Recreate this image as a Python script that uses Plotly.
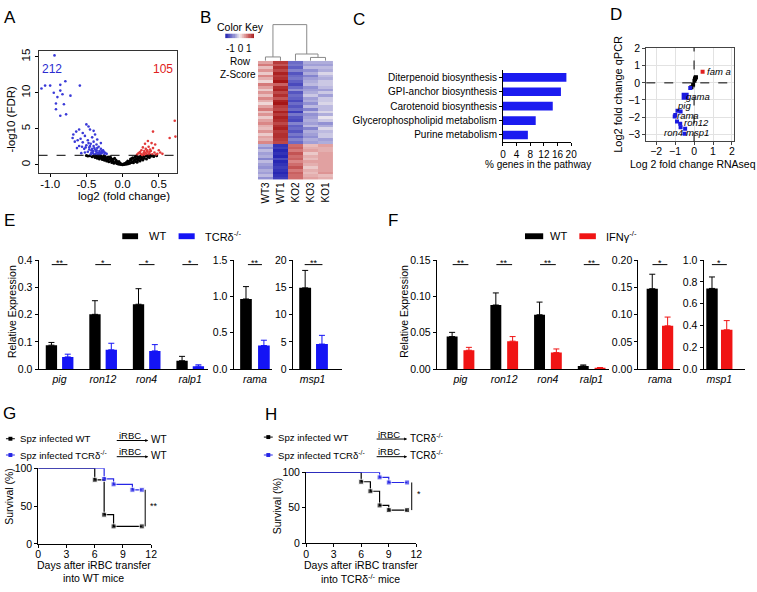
import plotly.graph_objects as go

W, H = 757, 592
FONT = "Liberation Sans, Arial, Helvetica, sans-serif"

# ======================= DATA =======================
# ---- A: volcano plot  (log2 fold change, -log10 FDR) ----
volc_down = [(-0.94, 15.2), (-1.07, 11.0), (-1.0, 11.0), (-0.79, 11.6), (-0.59, 11.0), (-0.86, 11.1),
             (-0.86, 10.3), (-0.83, 9.8), (-0.72, 9.6), (-0.92, 8.5), (-0.81, 8.4), (-0.92, 7.7),
             (-0.86, 6.8), (-0.78, 7.0), (-0.9, 9.4), (-1.12, 10.6), (-0.95, 10.0), (-0.68, 4.2),
             (-0.69, 3.7), (-0.6, 4.9), (-0.64, 4.6), (-0.55, 4.4), (-0.5, 5.6), (-0.47, 5.3),
             (-0.45, 4.9), (-0.4, 4.7), (-0.52, 4.0), (-0.58, 3.6), (-0.62, 3.4), (-0.66, 3.2),
             (-0.55, 3.1), (-0.48, 3.4), (-0.42, 3.8), (-0.38, 4.2), (-0.35, 3.5), (-0.44, 2.9),
             (-0.5, 2.7), (-0.56, 2.5), (-0.6, 2.6), (-0.63, 2.3), (-0.53, 2.2), (-0.46, 2.4),
             (-0.4, 2.6), (-0.36, 2.8), (-0.33, 2.5), (-0.3, 2.2), (-0.27, 2.0), (-0.32, 1.9),
             (-0.38, 2.1), (-0.43, 2.0), (-0.48, 1.8), (-0.52, 1.7), (-0.57, 1.6), (-0.41, 1.6),
             (-0.35, 1.7), (-0.29, 1.6), (-0.25, 1.5), (-0.31, 1.45), (-0.37, 1.5), (-0.44, 1.45),
             (-0.22, 1.5), (-0.26, 1.8), (-0.3, 3.0), (-0.4, 3.2), (-0.47, 3.0), (-0.34, 1.4),
             (-0.39, 1.4), (-0.36, 2.0), (-0.28, 1.75), (-0.33, 1.6), (-0.41, 1.9), (-0.46, 2.1),
             (-0.37, 1.85), (-0.31, 1.7), (-0.43, 1.7), (-0.39, 2.3), (-0.35, 2.3), (-0.29, 1.9),
             (-0.24, 1.65), (-0.45, 2.6), (-0.51, 2.4), (-0.42, 2.2)]
volc_up = [(0.72, 6.1), (0.73, 3.9), (0.65, 3.7), (0.42, 4.6), (0.35, 3.3), (0.4, 3.0), (0.45, 2.8),
           (0.31, 2.9), (0.36, 2.5), (0.28, 2.4), (0.32, 2.2), (0.38, 2.1), (0.42, 2.3), (0.26, 2.0),
           (0.3, 1.9), (0.34, 1.8), (0.39, 1.9), (0.44, 1.7), (0.48, 1.5), (0.22, 1.6), (0.25, 1.5),
           (0.29, 1.6), (0.33, 1.5), (0.37, 1.55), (0.41, 1.45), (0.46, 1.4), (0.2, 1.4), (0.24, 1.75),
           (0.5, 2.0), (0.55, 1.5), (0.52, 1.7), (0.3, 1.4), (0.36, 1.4), (0.27, 1.35), (0.34, 2.0),
           (0.37, 1.75), (0.31, 1.65)]
volc_ns = [(-0.45, 1.25), (-0.42, 1.1), (-0.4, 1.2), (-0.38, 1.0), (-0.36, 1.15), (-0.35, 0.9),
           (-0.33, 1.05), (-0.32, 0.8), (-0.3, 1.2), (-0.3, 0.95), (-0.28, 0.7), (-0.27, 1.0),
           (-0.26, 0.85), (-0.25, 0.6), (-0.24, 1.15), (-0.23, 0.75), (-0.22, 0.5), (-0.21, 0.95),
           (-0.2, 0.65), (-0.19, 0.4), (-0.18, 0.8), (-0.17, 1.1), (-0.16, 0.55), (-0.15, 0.3),
           (-0.14, 0.7), (-0.13, 0.45), (-0.12, 0.2), (-0.11, 0.9), (-0.1, 0.35), (-0.09, 0.6),
           (-0.08, 0.15), (-0.07, 0.3), (-0.06, 0.08), (-0.05, 0.45), (-0.04, 0.05), (-0.03, 0.2),
           (-0.02, 0.02), (0.0, 0.0), (0.01, 0.1), (0.02, 0.02), (0.03, 0.15), (0.04, 0.05),
           (0.05, 0.3), (0.06, 0.08), (0.07, 0.2), (0.08, 0.12), (0.09, 0.4), (0.1, 0.2),
           (0.11, 0.6), (0.12, 0.3), (0.13, 0.85), (0.14, 0.4), (0.15, 0.25), (0.16, 0.6),
           (0.17, 1.0), (0.18, 0.45), (0.19, 0.75), (0.2, 0.35), (0.21, 1.1), (0.22, 0.6),
           (0.23, 0.9), (0.24, 0.5), (0.25, 1.2), (0.26, 0.75), (0.27, 1.0), (0.28, 0.65),
           (0.3, 0.9), (0.31, 1.2), (0.33, 0.8), (0.35, 1.1), (0.37, 1.0), (0.4, 1.2),
           (0.43, 1.15), (0.47, 1.25), (-0.5, 1.28), (-0.48, 1.2), (-0.34, 1.25), (-0.29, 1.1),
           (-0.24, 0.95), (-0.16, 0.9), (0.14, 0.95), (0.2, 0.8), (0.29, 1.25), (0.34, 1.25),
           (-0.2, 1.05), (-0.13, 0.75), (-0.08, 0.45), (0.07, 0.5), (0.11, 0.8), (0.18, 1.15),
           (0.24, 1.05), (-0.26, 1.25), (-0.39, 1.28), (0.38, 1.28)]
volc_n_down, volc_n_up = 212, 105
fdr_cut = 1.3

# ---- B: heatmap of row z-scores ----
heat_cols = ["WT3", "WT1", "KO2", "KO3", "KO1"]
heat_z = [
    [0.6, 1.4, -1.0, -0.5, -0.5], [0.9, 1.2, -0.9, -0.6, -0.6], [0.4, 1.5, -1.1, -0.4, -0.4],
    [0.7, 1.3, -0.8, -0.7, -0.5], [0.3, 1.6, -1.2, -0.5, -0.2], [0.8, 1.4, -1.0, -0.8, -0.4],
    [0.5, 1.5, -0.9, -0.6, -0.5], [0.2, 1.7, -1.1, -0.5, -0.3], [0.9, 1.1, -1.3, -0.4, -0.3],
    [0.6, 1.5, -1.0, -0.7, -0.4], [0.3, 1.6, -0.7, -0.6, -0.6], [0.7, 1.3, -1.2, -0.5, -0.3],
    [0.4, 1.5, -1.0, -0.3, -0.6], [0.8, 1.2, -1.1, -0.6, -0.3], [0.5, 1.6, -1.3, -0.5, -0.3],
    [0.2, 1.7, -1.0, -0.7, -0.2], [0.6, 1.4, -1.2, -0.4, -0.4], [0.9, 1.3, -1.0, -0.8, -0.4],
    [0.4, 1.6, -1.4, -0.4, -0.2], [0.7, 1.4, -0.9, -0.7, -0.5], [0.3, 1.6, -1.2, -0.6, -0.1],
    [0.6, 1.5, -1.3, -0.5, -0.3], [0.8, 1.3, -0.8, -0.6, -0.7], [0.5, 1.5, -1.1, -0.4, -0.5],
    [0.4, 1.6, -1.0, -0.8, -0.2], [0.7, 1.4, -1.2, -0.5, -0.4], [0.3, 1.5, -0.9, -0.6, -0.3],
    [0.6, 1.5, -1.1, -0.7, -0.3], [0.5, 1.4, -0.8, -0.5, -0.6], [0.8, 1.3, -1.0, -0.6, -0.5],
    [-0.5, -1.5, 1.0, 0.4, 0.6], [-0.7, -1.4, 1.1, 0.5, 0.5], [-0.4, -1.6, 0.9, 0.6, 0.5],
    [-0.6, -1.5, 1.2, 0.3, 0.6], [-0.5, -1.6, 1.0, 0.5, 0.6], [-0.8, -1.3, 1.1, 0.4, 0.6],
    [-0.4, -1.6, 0.8, 0.6, 0.6], [-0.6, -1.5, 1.0, 0.5, 0.6], [-0.7, -1.4, 1.2, 0.3, 0.6],
    [-0.5, -1.5, 0.9, 0.5, 0.6], [-0.6, -1.6, 1.1, 0.4, 0.7], [-0.4, -1.5, 1.0, 0.5, 0.4],
    [-0.7, -1.4, 1.0, 0.6, 0.5],
]
heat_key_vals = [-1.7, -1.45, -1.2, -0.95, -0.7, -0.45, -0.2, 0.0, 0.2, 0.45, 0.7, 0.95, 1.2, 1.45, 1.7]
heat_key_labels = ["-1", "0", "1"]
# dendrogram merges: (left x, left height, right x, right height, merge height)
dendro_merges = [(0, 0, 1, 0, 4.0), (3, 0, 4, 0, 3.5), (2, 0, 3.5, 3.5, 7.0), (0.5, 4.0, 2.75, 7.0, 37.0)]

# ---- C: pathway enrichment ----
path_names = ["Diterpenoid biosynthesis", "GPI-anchor biosynthesis", "Carotenoid biosynthesis",
              "Glycerophospholipid metabolism", "Purine metabolism"]
path_pct = [18.6, 17.0, 14.6, 9.6, 7.3]

# ---- D: qPCR vs RNAseq ----
d_black_x = [0.1, 0.05, 0.02, -0.05, -0.14, 0.07]
d_black_y = [0.33, 0.22, 0.13, -0.1, -0.25, 0.3]
d_red_x, d_red_y = [0.45], [0.65]
d_blue_x = [-0.2, -0.87, -0.71, -0.99, -1.02, -0.9, -0.73, -0.71, -0.47, -0.5]
d_blue_y = [-0.3, -1.63, -1.67, -1.88, -1.97, -2.26, -2.39, -2.59, -2.68, -2.97]
d_gama_x, d_gama_y = [-0.47], [-0.79]
d_labels = ["fam a", "gama", "pig", "rama", "ron12", "ron4", "msp1"]

# ---- E: WT vs TCRd-/- ----
e_genes = ["pig", "ron12", "ron4", "ralp1"]
e_wt = [0.088, 0.201, 0.238, 0.031]
e_wt_err = [0.010, 0.050, 0.057, 0.016]
e_ko = [0.045, 0.071, 0.067, 0.011]
e_ko_err = [0.010, 0.024, 0.023, 0.005]
e_sig = ["**", "*", "*", "*"]
e_rama = [0.965, 0.17, 0.325, 0.073]     # wt, wt err, ko, ko err
e_rama_sig = "**"
e_msp1 = [14.9, 3.2, 4.6, 1.6]
e_msp1_sig = "**"

# ---- F: WT vs IFNg-/- ----
f_genes = ["pig", "ron12", "ron4", "ralp1"]
f_wt = [0.0448, 0.0882, 0.0748, 0.0045]
f_wt_err = [0.0058, 0.0166, 0.0174, 0.0013]
f_ko = [0.026, 0.0385, 0.0228, 0.0018]
f_ko_err = [0.004, 0.0063, 0.005, 0.0004]
f_sig = ["**", "**", "**", "**"]
f_rama = [0.1475, 0.0265, 0.0794, 0.0161]
f_rama_sig = "*"
f_msp1 = [0.740, 0.105, 0.361, 0.084]
f_msp1_sig = "*"

# ---- G / H: survival ----
g_wt_t = [0, 6, 7, 8, 11]
g_wt_s = [100, 84.6, 38.5, 23.1, 23.1]
g_ko_t = [0, 7, 8, 10, 11]
g_ko_s = [100, 85.7, 78.6, 71.4, 71.4]
g_sig = "**"
h_wt_t = [0, 6, 7, 8, 9, 11]
h_wt_s = [100, 86.7, 73.3, 53.3, 46.7, 46.7]
h_ko_t = [0, 8, 9, 11]
h_ko_s = [100, 92.9, 85.7, 85.7]
h_sig = "*"

# ======================= HELPERS =======================
fig = go.Figure()
annotations, shapes = [], []


def PX(x):
    return x / W


def PY(y):
    return 1 - y / H


def dx(a, b):
    return [a / W, b / W]


def dy(top, bottom):
    return [1 - bottom / H, 1 - top / H]


def txt(x, y, s, size=10, color="black", xanchor="center", yanchor="middle", angle=0):
    annotations.append(dict(x=PX(x), y=PY(y), xref="paper", yref="paper", text=s, showarrow=False,
                            font=dict(family=FONT, size=size, color=color), xanchor=xanchor,
                            yanchor=yanchor, textangle=angle))


def axis(domain, rng=None, size=10, **kw):
    d = dict(domain=domain, showgrid=False, zeroline=False, showline=True, linecolor="black",
             linewidth=1, ticks="outside", ticklen=3, tickwidth=1, tickcolor="black",
             tickfont=dict(family=FONT, size=size, color="black"), fixedrange=True)
    if rng is not None:
        d["range"] = rng
    d.update(kw)
    return d


layout_axes = {}

# ======================= A =======================
fig.add_trace(go.Scatter(x=[p[0] for p in volc_ns], y=[p[1] for p in volc_ns], mode="markers",
                         marker=dict(color="black", size=3), xaxis="x", yaxis="y"))
fig.add_trace(go.Scatter(x=[p[0] for p in volc_down], y=[p[1] for p in volc_down], mode="markers",
                         marker=dict(color="#3a3ad8", size=2.6), xaxis="x", yaxis="y"))
fig.add_trace(go.Scatter(x=[p[0] for p in volc_up], y=[p[1] for p in volc_up], mode="markers",
                         marker=dict(color="#e23a3a", size=2.6), xaxis="x", yaxis="y"))
layout_axes["xaxis"] = axis(dx(36, 176), [-1.16, 0.75], size=11.5, anchor="y", mirror=True,
                            tickvals=[-1, -0.5, 0, 0.5], ticktext=["-1.0", "-0.5", "0.0", "0.5"],
                            linecolor="#333", ticklabelstandoff=-2)
layout_axes["yaxis"] = axis(dy(46, 170), [-1.1, 15.8], size=11.5, anchor="x", mirror=True,
                            tickvals=[0, 5, 10, 15], tickangle=-90, linecolor="#333")
shapes.append(dict(type="line", xref="x domain", yref="y", x0=0, x1=1, y0=fdr_cut, y1=fdr_cut,
                   line=dict(color="black", width=1, dash="dash")))
txt(50, 64, str(volc_n_down), size=12, color="#2b2bd0")
txt(162, 64, str(volc_n_up), size=12, color="#e02020")
txt(8, 115, "-log10 (FDR)", size=11.5, angle=-90)
txt(122, 194, "log2 (fold change)", size=11.5)

# ======================= B =======================
HEAT_CS = [[0, "#1c1cb0"], [0.25, "#7d7dcc"], [0.5, "#f6f1f1"], [0.75, "#d88080"], [1, "#a51616"]]
fig.add_trace(go.Heatmap(z=heat_z, x=list(range(len(heat_cols))), xaxis="x2", yaxis="y2",
                         zmin=-1.7, zmax=1.7, colorscale=HEAT_CS, showscale=False))
layout_axes["xaxis2"] = axis(dx(258, 334), [-0.5, 4.5], anchor="y2", showline=False, ticks="",
                             tickvals=list(range(5)), ticktext=heat_cols, tickangle=-90)
layout_axes["yaxis2"] = axis(dy(56, 177), [len(heat_z) - 0.5, -0.5], anchor="x2", showline=False,
                             ticks="", showticklabels=False)
dxs, dys = [], []
for (xl, hl, xr, hr, h) in dendro_merges:
    dxs += [xl, xl, xr, xr, None]
    dys += [hl, h, h, hr, None]
fig.add_trace(go.Scatter(x=dxs, y=dys, mode="lines", line=dict(color="#8a8a8a", width=1),
                         xaxis="x3", yaxis="y3"))
layout_axes["xaxis3"] = axis(dx(258, 334), [-0.5, 4.5], anchor="y3", visible=False)
layout_axes["yaxis3"] = axis(dy(15, 56), [0, 41], anchor="x3", visible=False)
# colour key
fig.add_trace(go.Heatmap(z=[heat_key_vals, heat_key_vals], x=heat_key_vals, y=[0, 1],
                         xaxis="x14", yaxis="y14",
                         zmin=-1.7, zmax=1.7, colorscale=HEAT_CS, showscale=False))
layout_axes["xaxis14"] = axis(dx(225, 254), [-1.7, 1.7], anchor="y14", visible=False)
layout_axes["yaxis14"] = axis(dy(28, 33), [-0.5, 1.5], anchor="x14", visible=False)
txt(240, 21, "Color Key", size=10.5)
txt(238.5, 43, " ".join(heat_key_labels), size=10)
txt(240.5, 57, "Row", size=10)
txt(237.5, 70, "Z-Score", size=10)

# ======================= C =======================
fig.add_trace(go.Bar(x=path_pct, y=path_names, orientation="h", width=0.6,
                     marker=dict(color="#1b1bf0", line=dict(width=0)), xaxis="x4", yaxis="y4"))
layout_axes["xaxis4"] = axis(dx(506, 575), [0, 20], anchor="y4", size=10,
                             tickvals=[0, 4, 8, 12, 16, 20])
layout_axes["yaxis4"] = axis(dy(65.5, 139), anchor="x4", size=10, type="category",
                             categoryarray=path_names, autorange="reversed")
txt(541, 162, "% genes in the pathway", size=10)

# ======================= D =======================
fig.add_trace(go.Scatter(x=d_black_x, y=d_black_y, mode="markers",
                         marker=dict(color="black", size=4, symbol="square"), xaxis="x5", yaxis="y5"))
fig.add_trace(go.Scatter(x=d_blue_x, y=d_blue_y, mode="markers",
                         marker=dict(color="#1a1ae0", size=4, symbol="square"), xaxis="x5", yaxis="y5"))
fig.add_trace(go.Scatter(x=d_gama_x, y=d_gama_y, mode="markers",
                         marker=dict(color="#1a1ae0", size=7, symbol="square"), xaxis="x5", yaxis="y5"))
fig.add_trace(go.Scatter(x=d_red_x, y=d_red_y, mode="markers",
                         marker=dict(color="#e02020", size=4, symbol="square"), xaxis="x5", yaxis="y5"))
layout_axes["xaxis5"] = axis(dx(651, 739.3), [-2.52, 2.08], anchor="y5", mirror=True, size=10.5,
                             showgrid=True, gridcolor="#e2e2e2", tickvals=[-2, -1, 0, 1, 2],
                             linecolor="#444", tickcolor="#444", ticklabelstandoff=-3)
layout_axes["yaxis5"] = axis(dy(42.7, 138.3), [-3.43, 2.05], anchor="x5", mirror=True, size=10.5,
                             showgrid=True, gridcolor="#e2e2e2", tickvals=[-3, -2, -1, 0, 1, 2],
                             linecolor="#444", tickcolor="#444")
shapes.append(dict(type="line", xref="x5", yref="y5 domain", x0=0, x1=0, y0=0, y1=1,
                   line=dict(color="black", width=1, dash="dash")))
shapes.append(dict(type="line", xref="x5 domain", yref="y5", x0=0, x1=1, y0=0, y1=0,
                   line=dict(color="black", width=1, dash="dash")))
# gene label anchors (data coords of the label centre)
d_label_pos = {"fam a": (1.3, 0.65), "gama": (0.22, -0.78), "pig": (-0.52, -1.3),
               "rama": (-0.32, -1.93), "ron12": (0.12, -2.34), "ron4": (-1.1, -2.9),
               "msp1": (0.16, -2.9)}
for lab in d_labels:
    lx, ly = d_label_pos[lab]
    annotations.append(dict(x=lx, y=ly, xref="x5", yref="y5", text="<i>%s</i>" % lab, showarrow=False,
                            font=dict(family=FONT, size=9.5, color="black")))
txt(623, 90, "Log2 fold change qPCR", size=11, angle=-90)
txt(632.5, 161.5, "Log 2 fold change RNAseq", size=10.5, xanchor="left")


# ======================= E / F bar panels =======================
def bar_panel(n, dom_x, dom_y, rng_x, rng_y, dtick, fmt, cats, wt, wt_err, ko, ko_err, sigs,
              color, width, off_wt, off_ko):
    xa, ya = "x%d" % n, "y%d" % n
    xs = list(range(len(cats)))
    for vals, errs, col, off in ((wt, wt_err, "black", off_wt), (ko, ko_err, color, off_ko)):
        fig.add_trace(go.Bar(x=xs, y=vals, width=width, offset=off,
                             marker=dict(color=col, line=dict(width=0)),
                             error_y=dict(type="data", symmetric=False, array=errs,
                                          arrayminus=[0] * len(vals), color=col, thickness=1,
                                          width=3),
                             xaxis=xa, yaxis=ya))
    layout_axes["xaxis%d" % n] = axis(dom_x, rng_x, anchor=ya, ticks="", size=10.5,
                                      tickvals=xs, ticktext=["<i>%s</i>" % c for c in cats])
    layout_axes["yaxis%d" % n] = axis(dom_y, rng_y, anchor=xa, size=10.5, dtick=dtick,
                                      tickformat=fmt, tick0=0)
    ytop = rng_y[1] * 0.958
    ctr = (off_wt + off_ko + width) / 2
    for i, s in enumerate(sigs):
        shapes.append(dict(type="line", xref=xa, yref=ya, x0=i + ctr - 0.18, x1=i + ctr + 0.18,
                           y0=ytop, y1=ytop, line=dict(color="black", width=1)))
        annotations.append(dict(x=i + ctr, y=ytop, xref=xa, yref=ya, text=s, showarrow=False,
                                yanchor="middle", yshift=2,
                                font=dict(family=FONT, size=9, color="black")))


BLUE = "#1414f5"
RED = "#f01414"
bar_panel(6, dx(36, 207), dy(259.3, 370.7), [-0.48, 3.4], [0, 0.4], 0.1, ".1f", e_genes,
          e_wt, e_wt_err, e_ko, e_ko_err, e_sig, BLUE, 0.26, -0.315, 0.06)
bar_panel(7, dx(233.3, 272.7), dy(259.3, 370.7), [-0.55, 0.45], [0, 1.5], 0.5, ".1f", ["rama"],
          [e_rama[0]], [e_rama[1]], [e_rama[2]], [e_rama[3]], [e_rama_sig], BLUE, 0.3, -0.38, 0.08)
bar_panel(8, dx(293.3, 343.3), dy(259.3, 370.7), [-0.4, 0.6], [0, 20], 5, "d", ["msp1"],
          [e_msp1[0]], [e_msp1[1]], [e_msp1[2]], [e_msp1[3]], [e_msp1_sig], BLUE, 0.24, -0.27, 0.07)
bar_panel(9, dx(439, 613.3), dy(259.3, 370.7), [-0.54, 3.4], [0, 0.15], 0.05, ".2f", f_genes,
          f_wt, f_wt_err, f_ko, f_ko_err, f_sig, RED, 0.25, -0.314, 0.07)
bar_panel(10, dx(643, 685), dy(259.3, 370.7), [-0.52, 0.48], [0, 0.2], 0.05, ".2f", ["rama"],
          [f_rama[0]], [f_rama[1]], [f_rama[2]], [f_rama[3]], [f_rama_sig], RED, 0.27, -0.32, 0.05)
bar_panel(11, dx(709, 751), dy(259.3, 370.7), [-0.38, 0.62], [0, 1.0], 0.2, ".1f", ["msp1"],
          [f_msp1[0]], [f_msp1[1]], [f_msp1[2]], [f_msp1[3]], [f_msp1_sig], RED, 0.276, -0.315, 0.04)

txt(8.5, 312, "Relative Expression", size=10.5, angle=-90)
txt(405, 312, "Relative Expression", size=10.5, angle=-90)

# legends E / F
shapes.append(dict(type="rect", xref="paper", yref="paper", x0=PX(120.7), x1=PX(136.7), y0=PY(238),
                   y1=PY(232), fillcolor="black", line=dict(width=0)))
txt(145.7, 235, "WT", size=11, xanchor="left")
shapes.append(dict(type="rect", xref="paper", yref="paper", x0=PX(177.7), x1=PX(194), y0=PY(238),
                   y1=PY(232), fillcolor=BLUE, line=dict(width=0)))
txt(202.7, 235, "TCRδ<sup>-/-</sup>", size=11, xanchor="left")
shapes.append(dict(type="rect", xref="paper", yref="paper", x0=PX(528.3), x1=PX(546.7), y0=PY(238),
                   y1=PY(232), fillcolor="black", line=dict(width=0)))
txt(551.7, 235, "WT", size=11, xanchor="left")
shapes.append(dict(type="rect", xref="paper", yref="paper", x0=PX(583.3), x1=PX(600), y0=PY(238),
                   y1=PY(232), fillcolor=RED, line=dict(width=0)))
txt(608.3, 235, "IFNγ<sup>-/-</sup>", size=11, xanchor="left")


# ======================= G / H survival =======================
def km_panel(n, dom_x, dom_y, curves, sig, sig_x, sig_lo, sig_hi):
    xa, ya = "x%d" % n, "y%d" % n
    for t, s, col in curves:
        fig.add_trace(go.Scatter(x=t, y=s, mode="lines+markers", line=dict(shape="hv", color=col, width=1.2),
                                 marker=dict(symbol="square", size=[0] + [5] * (len(t) - 1), color=col),
                                 cliponaxis=False, xaxis=xa, yaxis=ya))
    layout_axes["xaxis%d" % n] = axis(dom_x, [0, 12], anchor=ya, size=10.5, tickvals=[0, 3, 6, 9, 12],
                                      ticklabelstandoff=-2)
    layout_axes["yaxis%d" % n] = axis(dom_y, [0, 100], anchor=xa, size=10.5, tickvals=[0, 50, 100])
    shapes.append(dict(type="line", xref=xa, yref=ya, x0=sig_x, x1=sig_x, y0=sig_lo, y1=sig_hi,
                       line=dict(color="black", width=1)))
    annotations.append(dict(x=sig_x, y=(sig_lo + sig_hi) / 2, xref=xa, yref=ya, text=sig,
                            showarrow=False, xanchor="left", xshift=3, yshift=2,
                            font=dict(family=FONT, size=9, color="black")))


KM_BLUE = "#2626e6"
km_panel(12, dx(35.7, 150), dy(471.7, 549),
         [(g_wt_t, g_wt_s, "black"), (g_ko_t, g_ko_s, KM_BLUE)], g_sig, 11.36, g_wt_s[-1], g_ko_s[-1])
km_panel(13, dx(306.7, 418.3), dy(476, 548.3),
         [(h_wt_t, h_wt_s, "black"), (h_ko_t, h_ko_s, KM_BLUE)], h_sig, 11.5, h_wt_s[-1], h_ko_s[-1])

txt(6, 500, "Survival (%)", size=10.5, angle=-90)
txt(277, 510, "Survival (%)", size=10.5, angle=-90)
txt(91.7, 571, "Days after iRBC transfer", size=10.5)
txt(91.7, 584, "into WT mice", size=10.5)
txt(362, 571, "Days after iRBC transfer", size=10.5)
txt(362, 584, "into TCRδ<sup>-/-</sup> mice", size=10.5)


def km_legend(x0, y, col, label):
    shapes.append(dict(type="line", xref="paper", yref="paper", x0=PX(x0), x1=PX(x0 + 9), y0=PY(y),
                       y1=PY(y), line=dict(color=col, width=1)))
    shapes.append(dict(type="rect", xref="paper", yref="paper", x0=PX(x0 + 2.5), x1=PX(x0 + 6.5),
                       y0=PY(y + 2), y1=PY(y - 2), fillcolor=col, line=dict(width=0)))
    txt(x0 + 12, y, label, size=9.6, xanchor="left")


def irbc(x0, x1, y, target):
    txt((x0 + x1) / 2 - 2, y - 5, "iRBC", size=9.5)
    annotations.append(dict(x=PX(x1), y=PY(y), xref="paper", yref="paper", ax=-(x1 - x0), ay=0,
                            text="", showarrow=True, arrowhead=2,
                            arrowsize=0.6, arrowwidth=1, arrowcolor="black"))
    txt(x1 + 1, y - 1.5, target, size=10, xanchor="left")


km_legend(3, 441.7, "black", "Spz infected WT")
km_legend(3, 458.3, KM_BLUE, "Spz infected TCRδ<sup>-/-</sup>")
irbc(114, 147, 443.5, "WT")
irbc(114, 147, 460, "WT")
km_legend(264, 440, "black", "Spz infected WT")
km_legend(264, 458.3, KM_BLUE, "Spz infected TCRδ<sup>-/-</sup>")
irbc(377, 409, 442, "TCRδ<sup>-/-</sup>")
irbc(377, 409, 460, "TCRδ<sup>-/-</sup>")

# ======================= panel letters =======================
for letter, x, y in (("A", 7, 12), ("B", 205, 12), ("C", 360, 14), ("D", 620, 9),
                     ("E", 7, 219), ("F", 395, 219), ("G", 7, 416), ("H", 271, 417)):
    txt(x, y, letter, size=17)

fig.update_layout(width=W, height=H, margin=dict(l=0, r=0, t=0, b=0), showlegend=False,
                  plot_bgcolor="white", paper_bgcolor="white", barmode="overlay",
                  font=dict(family=FONT, color="black"), annotations=annotations, shapes=shapes,
                  **layout_axes)
fig.write_html("out.html", config={"displayModeBar": False},
               post_script="document.body.style.margin='0px';document.body.style.overflow='hidden';")
